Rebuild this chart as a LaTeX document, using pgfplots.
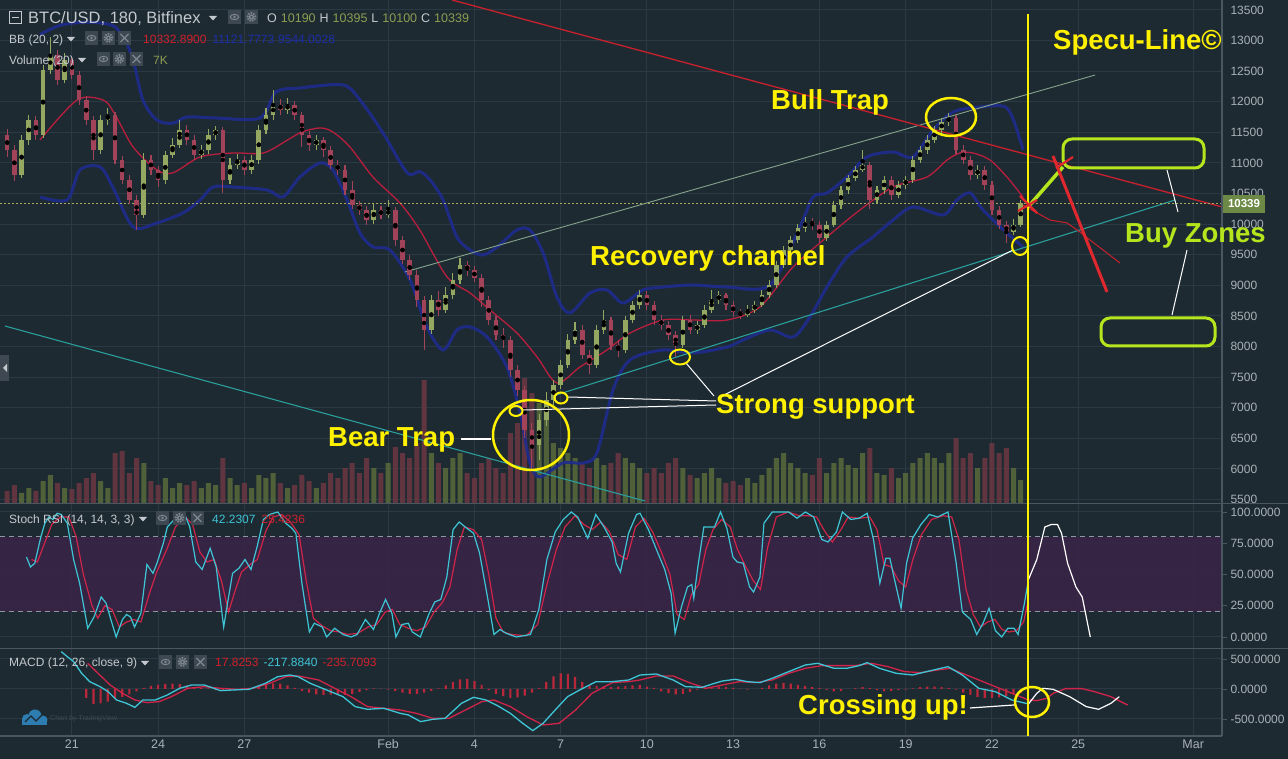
\documentclass[border=0pt]{standalone}
\usepackage{fontspec}
\setmainfont{Liberation Sans}
\usepackage{pgfplots}
\usepackage{pgfplotstable}
\pgfplotsset{compat=1.18}
\usepgfplotslibrary{fillbetween}

\definecolor{bg}{HTML}{1E2A32}
\definecolor{gridc}{HTML}{2A3943}
\definecolor{axtext}{HTML}{A9B1B8}
\definecolor{sepc}{HTML}{4A5761}
\definecolor{hdr}{HTML}{C3C9CE}
\definecolor{candup}{HTML}{95A862}
\definecolor{canddn}{HTML}{A3435A}
\definecolor{volup}{HTML}{56683A}
\definecolor{voldn}{HTML}{683741}
\definecolor{bbline}{HTML}{1E2C8E}
\definecolor{bbfill}{HTML}{28348A}
\definecolor{bbmid}{HTML}{B81E3E}
\definecolor{cyanl}{HTML}{3EC5D6}
\definecolor{redl}{HTML}{D0244A}
\definecolor{stochband}{HTML}{3A2346}
\definecolor{histc}{HTML}{B8283A}
\definecolor{yel}{HTML}{FFF100}
\definecolor{limec}{HTML}{B5E61D}
\definecolor{trendred}{HTML}{C8202C}
\definecolor{redmark}{HTML}{E0282E}
\definecolor{chan}{HTML}{86A48E}
\definecolor{tealc}{HTML}{2A9E9A}
\definecolor{priceln}{HTML}{A8A860}
\definecolor{pricebox}{HTML}{6C8A46}
\definecolor{iconbg}{HTML}{3E4852}
\definecolor{iconfg}{HTML}{7D8790}
\definecolor{olivec}{HTML}{8C9E52}
\definecolor{bluet}{HTML}{1D2EA8}
\definecolor{redt}{HTML}{D0202C}
\definecolor{dashc}{HTML}{8E979F}
\definecolor{tvblue}{HTML}{2E7DB0}

\newcommand\fs[1]{\fontsize{#1pt}{#1pt}\selectfont}
\newcommand\ieye[2]{\begin{scope}[shift={(#1,#2)}]\fill[iconbg](0,0) rectangle (13,14);\draw[iconfg,line width=1pt](6.5,7) ellipse[x radius=4.2pt,y radius=2.6pt];\fill[iconfg](6.5,7) circle[radius=1.4pt];\end{scope}}
\newcommand\igear[2]{\begin{scope}[shift={(#1,#2)}]\fill[iconbg](0,0) rectangle (13,14);\draw[iconfg,line width=1.8pt,dash pattern=on 1.5pt off 1.2pt](6.5,7) circle[radius=4pt];\fill[iconfg](6.5,7) circle[radius=2.6pt];\fill[iconbg](6.5,7) circle[radius=1.2pt];\end{scope}}
\newcommand\ix[2]{\begin{scope}[shift={(#1,#2)}]\fill[iconbg](0,0) rectangle (13,14);\draw[iconfg,line width=1.3pt](2.5,3)--(10.5,11) (10.5,3)--(2.5,11);\end{scope}}
\newcommand\tri[2]{\fill[hdr] (#1,#2) -- ++(8,0) -- ++(-4,4.5) -- cycle;}

\pgfplotsset{mybase/.style={scale only axis, width=1222pt, xmin=18.5, xmax=61, anchor=south west,
  xtick={21,24,27,32,35,38,41,44,47,50,53,56,60}}}

\begin{document}
\pgfplotstableread{
i o h l c v
0 11460 11560 11100 11210 3.6
1 11210 11300 10700 10800 5.4
2 10800 11450 10750 11380 3.0
3 11380 11780 11300 11700 4.5
4 11700 11760 11380 11460 3.6
5 11460 12600 11400 12520 6.6
6 12520 13050 12450 12760 8.4
7 12760 12850 12280 12360 6.0
8 12360 12800 12300 12680 4.5
9 12680 12750 12380 12440 4.2
10 12440 12500 11950 12030 6.0
11 12030 12100 11620 11700 7.5
12 11700 11760 11050 11210 9.0
13 11210 11780 11150 11700 6.6
14 11700 11900 11620 11780 4.5
15 11780 11830 10980 11050 15.0
16 11050 11120 10650 10720 15.6
17 10720 10800 10330 10400 9.0
18 10400 10480 9900 10150 13.5
19 10150 11160 10100 11050 12.0
20 11050 11130 10800 10890 6.6
21 10890 10950 10600 10720 5.4
22 10720 11200 10660 11130 7.5
23 11130 11400 11080 11290 4.5
24 11290 11700 11250 11540 6.0
25 11540 11620 11300 11380 5.4
26 11380 11450 11050 11130 6.6
27 11130 11300 11060 11210 4.5
28 11210 11550 11150 11460 6.0
29 11460 11600 11380 11540 5.4
30 11540 11590 10510 10720 13.5
31 10720 11080 10650 10970 7.5
32 10970 11150 10900 11050 5.4
33 11050 11120 10800 10890 6.0
34 10890 11130 10820 11050 4.5
35 11050 11620 10980 11540 8.4
36 11540 11900 11480 11780 7.5
37 11780 12190 11700 11950 9.0
38 11950 12050 11780 11870 6.0
39 11870 12060 11800 11950 4.5
40 11950 12020 11700 11780 5.4
41 11780 11830 11260 11460 8.4
42 11460 11520 11200 11290 6.6
43 11290 11450 11220 11380 4.5
44 11380 11430 11100 11210 6.0
45 11210 11280 10900 10970 9.0
46 10970 11050 10800 10890 7.5
47 10890 10960 10480 10560 10.5
48 10560 10700 10250 10310 12.0
49 10310 10380 10150 10230 9.0
50 10230 10300 9980 10070 13.5
51 10070 10330 10000 10230 10.5
52 10230 10300 10080 10150 9.0
53 10150 10400 10100 10230 12.0
54 10230 10280 9650 9740 16.8
55 9740 9800 9350 9420 15.0
56 9420 9500 9080 9170 13.5
57 9170 9250 8650 8760 18.0
58 8760 8830 7940 8270 36.9
59 8270 8850 8200 8760 15.0
60 8760 8900 8500 8600 12.0
61 8600 8970 8550 8840 10.5
62 8840 9200 8780 9090 13.5
63 9090 9450 9020 9330 15.0
64 9330 9400 9150 9250 9.0
65 9250 9320 9050 9120 7.5
66 9120 9180 8650 8760 12.0
67 8760 8830 8350 8430 13.5
68 8430 8500 8100 8190 10.5
69 8190 8300 7980 8110 9.0
70 8110 8170 7500 7620 21.0
71 7620 7700 7200 7290 24.0
72 7290 7350 6500 6640 37.5
73 6640 6750 5980 6390 33.0
74 6390 6900 6150 6800 30.0
75 6800 7250 6700 7130 28.5
76 7130 7450 7050 7370 18.0
77 7370 7780 7300 7700 16.5
78 7700 8200 7650 8110 15.0
79 8110 8400 8050 8270 13.5
80 8270 8350 7800 7860 12.0
81 7860 7950 7550 7700 10.5
82 7700 8350 7650 8270 13.5
83 8270 8600 8200 8430 11.4
84 8430 8480 7950 8030 12.0
85 8030 8100 7830 7940 15.0
86 7940 8500 7900 8430 13.5
87 8430 8750 8380 8680 12.0
88 8680 8930 8620 8840 10.5
89 8840 8900 8600 8680 9.0
90 8680 8740 8350 8430 10.5
91 8430 8520 8270 8350 9.0
92 8350 8420 8100 8190 12.0
93 8190 8260 7830 8030 13.5
94 8030 8500 7980 8430 10.5
95 8430 8520 8200 8270 8.4
96 8270 8420 8200 8350 7.5
97 8350 8680 8300 8600 9.0
98 8600 8930 8550 8760 10.5
99 8760 8900 8700 8840 7.5
100 8840 8880 8600 8680 6.0
101 8680 8740 8480 8560 6.6
102 8560 8620 8450 8520 5.4
103 8520 8680 8480 8600 7.5
104 8600 8740 8550 8680 6.0
105 8680 8930 8640 8840 8.4
106 8840 9080 8800 9010 10.5
107 9010 9400 8960 9330 13.5
108 9330 9650 9280 9580 15.0
109 9580 9800 9520 9740 12.0
110 9740 10000 9700 9940 10.5
111 9940 10120 9880 10040 9.0
112 10040 10100 9900 9990 8.4
113 9990 10060 9700 9770 13.5
114 9770 10050 9720 9990 9.0
115 9990 10380 9950 10310 12.0
116 10310 10620 10250 10560 13.5
117 10560 10800 10500 10750 11.4
118 10750 10950 10700 10890 10.5
119 10890 11210 10850 10970 15.0
120 10970 11020 10250 10400 16.5
121 10400 10620 10350 10560 9.0
122 10560 10780 10500 10720 8.4
123 10720 10780 10400 10480 10.5
124 10480 10700 10420 10640 7.5
125 10640 10790 10580 10720 9.0
126 10720 11120 10680 11050 12.0
127 11050 11280 11000 11210 13.5
128 11210 11450 11150 11380 15.0
129 11380 11600 11320 11540 13.5
130 11540 11730 11480 11670 12.0
131 11670 11820 11600 11740 15.0
132 11740 11780 11150 11210 19.5
133 11210 11290 10980 11050 13.5
134 11050 11110 10720 10800 15.0
135 10800 10960 10740 10890 10.5
136 10890 10950 10560 10640 13.5
137 10640 10700 10150 10230 18.0
138 10230 10300 9920 9990 15.0
139 9990 10060 9690 9870 16.5
140 9870 10080 9820 9990 10.5
141 9990 10395 9950 10339 6.9
}\candles

\pgfplotstableread{
d p
19.89 13100
20.60 13250
21.50 13300
22.40 13250
22.80 13050
23.13 12683
23.47 12029
23.96 11700
24.52 11650
25.00 11750
26.00 11735
27.54 11735
28.10 12160
28.93 12225
30.43 12274
31.02 12029
31.82 11490
32.66 10840
33.10 10860
33.46 10722
33.91 10395
34.39 9790
34.85 9578
35.30 9496
35.79 9627
36.48 9905
36.93 9905
37.39 9529
37.87 8810
38.32 8549
39.02 8876
39.61 8924
40.17 8712
40.86 8924
41.56 8973
42.60 9006
43.79 8973
45.28 9006
46.32 9954
46.78 10444
47.26 10510
47.96 10771
48.65 11098
49.56 11179
50.25 11098
50.95 11539
51.65 11833
52.58 11915
53.52 11898
53.98 11375
54.08 11212
}\bbup

\pgfplotstableread{
d p
19.89 10444
20.83 10395
21.28 10885
21.98 10935
22.43 10600
23.13 9954
23.96 10020
24.86 10183
25.46 10395
25.91 10607
26.60 10607
27.79 10558
28.34 10444
28.93 10770
29.63 11000
30.08 10885
30.57 10395
31.02 9856
31.47 9627
32.06 9578
32.76 9088
33.35 8320
33.91 7944
34.39 8271
34.85 8320
35.44 8156
36.13 7666
36.59 6915
36.93 6098
37.28 5869
38.08 6098
38.78 6098
39.26 6261
39.82 7290
40.41 7781
41.56 7944
42.60 7895
43.79 7993
44.34 8107
45.28 8271
46.08 8156
46.67 8483
47.26 8973
47.96 9464
48.86 9790
49.56 10068
50.25 10281
51.30 10150
51.78 10395
52.24 10510
52.69 10232
53.52 9855
54.08 9627
}\bblo

\pgfplotstableread{
d p
19.89 11375
21.18 12029
22.08 12029
22.47 11817
23.13 11261
23.96 10885
24.52 10840
25.46 11098
26.60 11163
27.66 11163
28.50 11375
29.00 11506
29.63 11572
30.08 11506
30.67 11261
31.47 10771
32.41 10346
33.10 9905
34.05 9137
34.85 8875
35.54 8598
36.48 8221
37.18 7830
37.87 7405
38.67 7666
39.61 7944
40.41 8221
41.56 8434
42.60 8434
43.79 8434
44.93 8647
46.08 9300
47.26 9790
48.41 10232
49.56 10607
50.74 10771
51.44 11049
51.89 11163
52.34 11163
52.93 11049
53.52 10771
54.08 10444
}\bbmidt

\pgfplotstableread{
d v
19.42 64
19.56 56
19.71 59
19.92 80
20.06 91
20.20 96
20.34 94
20.49 99
20.63 98
20.84 91
21.06 62
21.27 43
21.55 7
21.77 16
22.02 32
22.19 27
22.33 16
22.54 0
22.76 14
22.90 18
23.04 16
23.18 8
23.40 19
23.61 58
23.82 51
23.96 59
24.18 75
24.32 88
24.60 95
24.89 100
25.10 88
25.31 60
25.53 54
25.81 71
26.02 56
26.28 8
26.45 32
26.59 51
26.81 55
27.02 62
27.23 54
27.44 72
27.66 94
27.87 98
28.16 100
28.44 91
28.65 87
28.79 83
29.00 43
29.26 4
29.43 11
29.71 8
29.86 0
30.14 7
30.43 2
30.71 0
30.92 2
31.21 14
31.49 6
31.70 19
31.91 30
32.13 19
32.27 0
32.48 10
32.70 11
32.84 4
33.12 0
33.41 18
33.62 28
33.83 30
34.04 48
34.26 86
34.47 92
34.68 88
34.97 83
35.18 67
35.47 30
35.68 2
35.89 6
36.10 3
36.46 0
36.95 2
37.24 22
37.52 62
37.81 84
38.09 94
38.37 100
38.59 96
38.94 79
39.22 98
39.51 88
39.79 76
39.93 59
40.08 52
40.36 83
40.64 98
40.76 99
41.05 86
41.33 70
41.62 54
41.84 35
41.98 3
42.20 24
42.41 40
42.56 42
42.63 31
42.77 56
42.98 88
43.20 88
43.35 88
43.56 100
43.78 87
43.99 64
44.14 60
44.35 59
44.57 40
44.71 36
44.93 48
45.07 91
45.36 100
45.93 100
46.22 95
46.51 100
46.80 96
47.08 78
47.30 76
47.59 84
47.80 100
48.09 94
48.38 95
48.66 99
48.88 78
49.10 43
49.31 63
49.45 63
49.60 47
49.84 23
50.03 59
50.24 79
50.53 90
50.82 98
51.11 96
51.47 100
51.75 60
51.97 20
52.26 14
52.47 2
52.69 11
52.90 23
53.12 5
53.34 0
53.55 7
53.77 7
53.91 2
54.13 27
54.27 46
}\stk

\pgfplotstableread{
d v
19.60 62
19.80 60
20.05 75
20.30 90
20.60 96
20.90 96
21.15 80
21.40 50
21.70 25
21.90 15
22.15 25
22.40 22
22.65 8
22.90 12
23.15 14
23.40 12
23.70 35
23.95 52
24.30 70
24.60 88
24.95 96
25.20 90
25.45 68
25.70 60
25.95 62
26.20 45
26.45 20
26.65 35
26.90 52
27.20 58
27.45 62
27.75 85
28.00 96
28.30 98
28.60 92
28.90 82
29.15 45
29.40 15
29.70 9
30.00 5
30.30 4
30.60 2
30.95 3
31.30 8
31.60 10
31.90 20
32.15 22
32.40 10
32.70 7
33.00 5
33.30 8
33.60 20
33.90 28
34.15 40
34.40 70
34.65 88
34.95 86
35.25 78
35.50 50
35.75 15
36.00 4
36.30 2
36.80 1
37.20 10
37.50 40
37.85 70
38.15 88
38.50 97
38.80 90
39.10 86
39.40 92
39.70 84
40.00 66
40.30 62
40.60 88
40.90 95
41.20 84
41.50 68
41.80 50
42.05 18
42.30 14
42.55 34
42.80 42
43.05 70
43.30 86
43.60 94
43.90 88
44.15 70
44.40 58
44.70 45
44.95 38
45.20 72
45.50 96
45.90 100
46.30 97
46.60 97
46.90 96
47.20 84
47.45 76
47.75 86
48.00 96
48.40 95
48.75 96
49.00 86
49.25 58
49.50 56
49.75 45
50.00 40
50.25 62
50.55 82
50.90 94
51.30 97
51.60 96
51.85 78
52.10 38
52.35 18
52.60 8
52.85 12
53.10 14
53.35 6
53.60 4
53.85 5
54.10 12
54.27 30
}\std

\pgfplotstableread{
d v
54.27 46
54.56 62
54.84 88
55.06 90
55.28 90
55.42 83
55.63 59
55.92 40
56.14 32
56.42 0
}\stw

\pgfplotstableread{
d v
20.63 622
20.84 539
21.06 456
21.34 261
21.62 122
21.98 39
22.26 -45
22.55 -183
22.90 -239
23.19 -306
23.47 -183
23.90 -183
24.32 -100
24.75 11
25.17 67
25.60 67
26.17 -28
26.59 -17
27.16 -6
27.73 94
28.16 205
28.58 233
28.87 205
29.29 94
29.86 -17
30.43 -128
30.85 -294
31.28 -339
31.85 -322
32.42 -406
32.70 -433
33.13 -544
33.55 -506
33.98 -489
34.55 -239
34.97 -139
35.40 -183
35.82 -283
36.25 -406
36.68 -572
37.03 -694
37.39 -572
37.81 -350
38.24 -128
38.66 -17
39.23 122
39.80 122
40.37 150
40.76 233
41.33 250
41.91 150
42.34 39
42.92 28
43.35 94
43.63 133
44.07 161
44.50 122
44.93 106
45.36 178
45.93 289
46.51 400
46.94 428
47.51 344
47.95 344
48.38 389
48.66 439
49.09 344
49.67 261
50.24 233
50.82 300
51.47 372
51.97 233
52.54 11
53.12 -45
53.69 -183
54.27 -250
}\mcc

\pgfplotstableread{
d v
54.27 -250
54.56 -72
54.77 11
55.13 -6
55.70 -128
56.28 -294
56.71 -339
57.14 -239
57.43 -128
}\mcw

\pgfplotstableread{
d v
21.55 428
21.91 261
22.33 67
22.76 -72
23.19 -183
23.61 -228
24.04 -211
24.46 -128
25.03 11
25.60 39
26.17 11
26.74 -6
27.30 11
27.87 94
28.44 205
28.87 217
29.58 150
30.14 11
30.71 -128
31.28 -294
31.85 -322
32.42 -350
32.98 -406
33.55 -489
34.12 -489
34.69 -350
35.26 -211
35.68 -183
36.25 -294
36.82 -461
37.39 -600
37.95 -572
38.52 -350
39.09 -72
39.80 106
40.37 122
40.76 150
41.33 217
41.91 217
42.48 105
43.06 11
43.63 67
44.21 122
44.78 106
45.36 150
45.93 261
46.51 344
47.08 389
47.66 389
48.23 389
48.81 428
49.38 372
49.96 289
50.53 272
51.11 317
51.54 344
52.11 233
52.69 122
53.26 11
53.84 -100
54.27 -183
54.56 -194
54.91 -156
55.13 -72
55.56 6
56.13 6
56.57 -45
57.14 -128
57.72 -267
}\mcs

\pgfplotstableread{
d v
21.50 -150
21.75 -250
22.00 -240
22.25 -210
22.50 -170
22.75 -130
23.00 -90
23.25 -40
23.50 20
23.75 50
24.00 70
24.25 85
24.50 90
24.75 80
25.00 60
25.25 30
25.50 20
25.75 10
26.00 -20
26.25 -30
26.50 -15
26.75 -10
27.00 10
27.25 20
27.50 40
27.75 70
28.00 95
28.25 90
28.50 60
28.75 20
29.00 -30
29.25 -60
29.50 -90
29.75 -100
30.00 -95
30.25 -90
30.50 -100
30.75 -80
31.00 -50
31.25 -20
31.50 10
31.75 5
32.00 -10
32.25 -30
32.50 -60
32.75 -80
33.00 -80
33.25 -60
33.50 -30
33.75 10
34.00 60
34.25 120
34.50 160
34.75 170
35.00 130
35.25 70
35.50 -20
35.75 -80
36.00 -120
36.25 -150
36.50 -140
36.75 -110
37.00 -60
37.25 20
37.50 120
37.75 210
38.00 260
38.25 250
38.50 200
38.75 120
39.00 60
39.25 50
39.50 40
39.75 30
40.00 40
40.25 50
40.50 60
40.75 70
41.00 40
41.25 20
41.50 -40
41.75 -70
42.00 -90
42.25 -80
42.50 -50
42.75 -10
43.00 20
43.25 30
43.50 40
43.75 35
44.00 20
44.25 5
44.50 -10
44.75 0
45.00 20
45.25 60
45.50 90
45.75 100
46.00 90
46.25 70
46.50 50
46.75 30
47.00 20
47.25 -20
47.50 -40
47.75 -30
48.00 0
48.25 20
48.50 30
48.75 20
49.00 -20
49.25 -40
49.50 -30
49.75 -20
50.00 -10
50.25 10
50.50 30
50.75 40
51.00 40
51.25 30
51.50 20
51.75 -10
52.00 -60
52.25 -100
52.50 -130
52.75 -150
53.00 -150
53.25 -140
53.50 -120
53.75 -90
54.00 -70
54.25 -50
}\mch

\begin{tikzpicture}
\fill[bg] (0pt,0pt) rectangle (1288pt,759pt);

% ---- main grid
\begin{axis}[mybase, at={(0pt,256pt)}, height=503pt, ymin=5444, ymax=13663,
  ytick={5500,6000,...,13500}, xticklabels={}, yticklabels={}, grid=major,
  major grid style={gridc, line width=1pt}, axis line style={draw=none}, tick style={draw=none}]
\addplot[draw=none] coordinates {(30,9000)};
\end{axis}

% ---- volume
\begin{axis}[mybase, at={(0pt,256pt)}, height=503pt, ymin=0, ymax=151, hide axis]
\addplot[ybar, bar width=5pt, bar shift=0pt, fill=volup, draw=none, fill opacity=0.9,
  restrict expr to domain={\thisrow{c}-\thisrow{o}}{0:20000}]
  table[x expr=18.75+0.25*\thisrow{i}, y=v]{\candles};
\addplot[ybar, bar width=5pt, bar shift=0pt, fill=voldn, draw=none, fill opacity=0.9,
  restrict expr to domain={\thisrow{c}-\thisrow{o}}{-20000:-0.5}]
  table[x expr=18.75+0.25*\thisrow{i}, y=v]{\candles};
\end{axis}

% ---- main price
\begin{axis}[mybase, at={(0pt,256pt)}, height=503pt, ymin=5444, ymax=13663,
  axis line style={draw=none}, xtick=\empty,
  ytick={5500,6000,...,13500},
  yticklabels={5500,6000,6500,7000,7500,8000,8500,9000,9500,10000,10500,11000,11500,12000,12500,13000,13500},
  ytick pos=right, yticklabel pos=right, tick align=outside, major tick length=5pt,
  tick style={sepc, line width=0.8pt}, yticklabel style={font=\fs{12}, text=axtext}]
\addplot[draw=none, name path=bbu, smooth] table[x=d,y=p]{\bbup};
\addplot[draw=none, name path=bbl, smooth] table[x=d,y=p]{\bblo};
\addplot[bbfill, fill opacity=0.32] fill between[of=bbu and bbl];
\addplot[bbline, line width=3pt, opacity=0.9, smooth] table[x=d,y=p]{\bbup};
\addplot[bbline, line width=3pt, opacity=0.9, smooth] table[x=d,y=p]{\bblo};
\addplot[bbmid, line width=1.3pt, smooth] table[x=d,y=p]{\bbmidt};
% trend lines
\addplot[tealc, line width=1.1pt] coordinates {(18.67,8336) (40.93,5476)};
\addplot[chan, line width=0.9pt] coordinates {(32.59,9219) (56.59,12437)};
\addplot[tealc, line width=1.1pt] coordinates {(37.73,7192) (59.37,10395)};
\addplot[trendred, line width=1.3pt] coordinates {(34.22,13663) (61.0,10281)};
% current price
\addplot[priceln, line width=0.9pt, dash pattern=on 2pt off 2pt] coordinates {(18.5,10339) (61,10339)};
% candles
\addplot[only marks, mark=none, restrict expr to domain={\thisrow{c}-\thisrow{o}}{0:20000},
  error bars/.cd, y dir=both, y explicit, error mark=none,
  error bar style={draw=candup, line width=1.1pt}]
  table[x expr=18.75+0.25*\thisrow{i}, y expr=\thisrow{h}/2+\thisrow{l}/2, y error expr=\thisrow{h}/2-\thisrow{l}/2]{\candles};
\addplot[only marks, mark=none, restrict expr to domain={\thisrow{c}-\thisrow{o}}{-20000:-0.5},
  error bars/.cd, y dir=both, y explicit, error mark=none,
  error bar style={draw=canddn, line width=1.1pt}]
  table[x expr=18.75+0.25*\thisrow{i}, y expr=\thisrow{h}/2+\thisrow{l}/2, y error expr=\thisrow{h}/2-\thisrow{l}/2]{\candles};
\addplot[only marks, mark=none, restrict expr to domain={\thisrow{c}-\thisrow{o}}{0:20000},
  error bars/.cd, y dir=both, y explicit, error mark=none,
  error bar style={draw=candup, line width=4.6pt}]
  table[x expr=18.75+0.25*\thisrow{i}, y expr=\thisrow{o}/2+\thisrow{c}/2, y error expr=abs(\thisrow{c}-\thisrow{o})/2]{\candles};
\addplot[only marks, mark=none, restrict expr to domain={\thisrow{c}-\thisrow{o}}{-20000:-0.5},
  error bars/.cd, y dir=both, y explicit, error mark=none,
  error bar style={draw=canddn, line width=4.6pt}]
  table[x expr=18.75+0.25*\thisrow{i}, y expr=\thisrow{o}/2+\thisrow{c}/2, y error expr=abs(\thisrow{c}-\thisrow{o})/2]{\candles};
% projected line
\addplot[trendred, line width=1pt] coordinates {(54.08,10313) (54.57,10183) (55.02,10068) (55.61,10020) (56.06,9872) (56.41,9741) (57.00,9529) (57.45,9366)};
\end{axis}

% ---- stoch RSI
\begin{axis}[mybase, at={(0pt,111pt)}, height=145pt, ymin=-8.8, ymax=107.2,
  axis line style={draw=none}, xticklabels={}, xmajorticks=false,
  ytick={0,25,50,75,100}, yticklabels={0.0000,25.0000,50.0000,75.0000,100.0000},
  ytick pos=right, yticklabel pos=right, tick align=outside, major tick length=5pt,
  tick style={sepc, line width=0.8pt}, yticklabel style={font=\fs{12}, text=axtext},
  grid=major, major grid style={gridc, line width=1pt}]
\addplot[fill=stochband, draw=none, fill opacity=0.85] coordinates {(18.5,20) (61,20) (61,80) (18.5,80)} -- cycle;
\addplot[dashc, line width=1pt, dash pattern=on 5pt off 4pt] coordinates {(18.5,20) (61,20)};
\addplot[dashc, line width=1pt, dash pattern=on 5pt off 4pt] coordinates {(18.5,80) (61,80)};
\addplot[redl, line width=1.2pt] table[x=d,y=v]{\std};
\addplot[cyanl, line width=1.2pt] table[x=d,y=v]{\stk};
\addplot[white, line width=1.2pt] table[x=d,y=v]{\stw};
\end{axis}

% ---- MACD
\begin{axis}[mybase, at={(0pt,24pt)}, height=87pt, ymin=-767, ymax=683,
  axis line style={draw=none}, major tick length=0pt, xtick pos=bottom,
  xticklabels={21,24,27,Feb,4,7,10,13,16,19,22,25,Mar},
  xticklabel style={font=\fs{12.5}, text=axtext, yshift=-1pt},
  ytick={-500,0,500}, yticklabels={-500.0000,0.0000,500.0000},
  ytick pos=right, yticklabel pos=right,
  yticklabel style={font=\fs{12}, text=axtext, xshift=5pt},
  grid=major, major grid style={gridc, line width=1pt}]
\addplot[ybar, bar width=2.2pt, bar shift=0pt, fill=histc, draw=none] table[x=d,y=v]{\mch};
\addplot[redl, line width=1.3pt] table[x=d,y=v]{\mcs};
\addplot[cyanl, line width=1.3pt] table[x=d,y=v]{\mcc};
\addplot[white, line width=1.2pt] table[x=d,y=v]{\mcw};
\end{axis}

% ---- overlays (pixel coordinates, y downward)
\begin{scope}[shift={(0pt,759pt)}, x=1pt, y=-1pt]
\draw[sepc, line width=1.2pt] (0,503.5)--(1288,503.5);
\draw[sepc, line width=1.2pt] (0,648.5)--(1288,648.5);
\draw[sepc, line width=1.2pt] (0,736)--(1222,736);
\draw[sepc, line width=1.2pt] (1222,0)--(1222,736);
\draw[sepc, line width=0.8pt] (1222,659)--(1227,659) (1222,689)--(1227,689) (1222,719)--(1227,719);
% price box
\fill[pricebox] (1223,195) rectangle (1265,213);
\node[text=white, font=\fs{11.5}\bfseries, inner sep=0] at (1244,204) {10339};
% left tab
\fill[iconbg] (0,355) rectangle (9,381);
\fill[hdr] (7,364)--(3,368)--(7,372)--cycle;
% TradingView logo
\fill[tvblue] (27,719) circle[radius=5pt];
\fill[tvblue] (35,716) circle[radius=6.5pt];
\fill[tvblue] (43,720) circle[radius=4.5pt];
\fill[tvblue] (22,719) rectangle (47,725);
\draw[bg, line width=1.2pt] (25,722)--(31,716)--(36,721)--(42,715);
\node[anchor=west, inner sep=0, text=iconbg, font=\fs{7}] at (50,719) {Chart by TradingView};
% yellow vertical
\draw[yel, line width=1.3pt] (1028,14)--(1028,736);
% white guide lines
\draw[white, line width=1pt] (568,397)--(716,401);
\draw[white, line width=1pt] (523,410)--(716,405);
\draw[white, line width=1pt] (686,363)--(714,396);
\draw[white, line width=1pt] (718,398)--(1013,250);
\draw[white, line width=2.5pt] (461,439)--(491,439);
\draw[white, line width=1.2pt] (970,708)--(1014,705);
\draw[white, line width=1pt] (1167,170)--(1178,212);
\draw[white, line width=1pt] (1187,250)--(1172,315);
% circles
\draw[yel, line width=2.5pt] (951,117) ellipse[x radius=25pt, y radius=19pt];
\draw[yel, line width=2.5pt] (531,435) ellipse[x radius=38pt, y radius=35pt];
\draw[yel, line width=2pt] (516,411) ellipse[x radius=6.5pt, y radius=5pt];
\draw[yel, line width=2pt] (561,398) ellipse[x radius=6.5pt, y radius=5.5pt];
\draw[yel, line width=2pt] (680,357) ellipse[x radius=10pt, y radius=7.5pt];
\draw[yel, line width=2pt] (1020,246) ellipse[x radius=8pt, y radius=9pt];
\draw[yel, line width=2.5pt] (1032,702) ellipse[x radius=17pt, y radius=15pt];
% buy zones
\draw[limec, line width=3pt, rounded corners=9pt] (1063,139) rectangle (1204,168);
\draw[limec, line width=3pt, rounded corners=9pt] (1101,318) rectangle (1215,346);
% projection marks
\draw[limec, line width=3.5pt] (1028,207)--(1063,167);
\draw[redmark, line width=3pt] (1053,156)--(1107,292);
\draw[redmark, line width=2.2pt] (1056,168)--(1073,157);
\draw[redmark, line width=2.2pt] (1020,196)--(1037,213);
\draw[redmark, line width=2.2pt] (1018,211)--(1037,200);
% annotation texts
\node[anchor=base west, inner sep=0, text=yel, font=\fs{27.5}\bfseries] at (1053,50) {Specu-Line\textcopyright};
\node[anchor=base west, inner sep=0, text=yel, font=\fs{27.5}\bfseries] at (771,110) {Bull Trap};
\node[anchor=base west, inner sep=0, text=yel, font=\fs{27.5}\bfseries] at (590,266) {Recovery channel};
\node[anchor=base west, inner sep=0, text=yel, font=\fs{27.5}\bfseries] at (716,414) {Strong support};
\node[anchor=base west, inner sep=0, text=yel, font=\fs{27.5}\bfseries] at (328,447) {Bear Trap};
\node[anchor=base west, inner sep=0, text=limec, font=\fs{27.5}\bfseries] at (1125,243) {Buy Zones};
\node[anchor=base west, inner sep=0, text=yel, font=\fs{27.5}\bfseries] at (798,715) {Crossing up!};
% headers
\draw[hdr, line width=1pt] (9.5,11.5) rectangle (21.5,23.5);
\draw[hdr, line width=1pt] (12,17.5)--(19,17.5);
\node[anchor=base west, inner sep=0, text=hdr, font=\fs{16.5}] at (28,24) {BTC/USD, 180, Bitfinex};
\tri{209}{16}
\ieye{228}{10}\igear{245}{10}
\node[anchor=base west, inner sep=0, font=\fs{12.5}] at (267,23) {\textcolor{hdr}{O}\hspace{4pt}\textcolor{olivec}{10190}\hspace{4pt}\textcolor{hdr}{H}\hspace{4pt}\textcolor{olivec}{10395}\hspace{4pt}\textcolor{hdr}{L}\hspace{4pt}\textcolor{olivec}{10100}\hspace{4pt}\textcolor{hdr}{C}\hspace{4pt}\textcolor{olivec}{10339}};
\node[anchor=base west, inner sep=0, text=hdr, font=\fs{12}] at (9,44) {BB (20, 2)};
\tri{67}{37}
\ieye{85}{31}\igear{102}{31}\ix{118}{31}
\node[anchor=base west, inner sep=0, font=\fs{12}] at (143,44) {\textcolor{redt}{10332.8900}\hspace{6pt}\textcolor{bluet}{11121.7773}\hspace{4pt}\textcolor{bluet}{9544.0028}};
\node[anchor=base west, inner sep=0, text=hdr, font=\fs{12}] at (9,65) {Volume (20)};
\tri{78}{58}
\ieye{97}{52}\igear{113}{52}\ix{130}{52}
\node[anchor=base west, inner sep=0, text=olivec, font=\fs{12}] at (153,65) {7K};
\node[anchor=base west, inner sep=0, text=hdr, font=\fs{12}] at (9,524) {Stoch RSI (14, 14, 3, 3)};
\tri{139}{517}
\ieye{156}{511}\igear{173}{511}\ix{191}{511}
\node[anchor=base west, inner sep=0, font=\fs{12}] at (212,524) {\textcolor{cyanl}{42.2307}\hspace{6pt}\textcolor{redt}{25.4236}};
\node[anchor=base west, inner sep=0, text=hdr, font=\fs{12}] at (9,667) {MACD (12, 26, close, 9)};
\tri{141}{661}
\ieye{159}{655}\igear{176}{655}\ix{194}{655}
\node[anchor=base west, inner sep=0, font=\fs{12}] at (215,667) {\textcolor{redt}{17.8253}\hspace{5pt}\textcolor{cyanl}{-217.8840}\hspace{5pt}\textcolor{redt}{-235.7093}};
\end{scope}
\pgfresetboundingbox
\useasboundingbox (0pt,0pt) rectangle (1288pt,759pt);
\end{tikzpicture}
\end{document}
